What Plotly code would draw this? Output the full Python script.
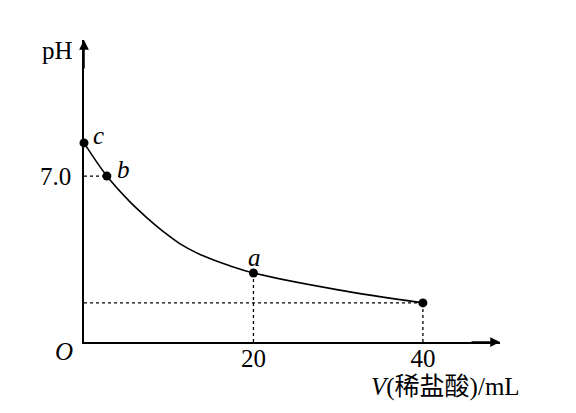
import plotly.graph_objects as go

# Data
V_curve = [0, 2.7, 5.4, 7.4, 9.4, 11.3, 13.3, 15.3, 17.2, 20, 30, 40]
pH_curve = [8.4, 7.0, 5.92, 5.25, 4.65, 4.15, 3.76, 3.46, 3.22, 2.91, 2.2, 1.65]

point_V = [0, 2.7, 20, 40]
point_pH = [8.4, 7.0, 2.91, 1.65]
point_labels = ["c", "b", "a", ""]

x_ticks = [20, 40]
x_ticktext = ["20", "40"]
y_ticks = [7.0]
y_ticktext = ["7.0"]

SERIF = "Liberation Serif, Times New Roman, serif"
FS = 25
X_MAX = 49.1
Y_MAX = 12.74

fig = go.Figure()

# dashed guide lines
dash = dict(color="black", width=1.3, dash="3px,3px")
fig.add_trace(go.Scatter(x=[0, point_V[1]], y=[point_pH[1], point_pH[1]], mode="lines", line=dash, hoverinfo="skip"))
fig.add_trace(go.Scatter(x=[point_V[2], point_V[2]], y=[0, point_pH[2]], mode="lines", line=dash, hoverinfo="skip"))
fig.add_trace(go.Scatter(x=[0, point_V[3]], y=[point_pH[3], point_pH[3]], mode="lines", line=dash, hoverinfo="skip"))
fig.add_trace(go.Scatter(x=[point_V[3], point_V[3]], y=[0, point_pH[3]], mode="lines", line=dash, hoverinfo="skip"))

# curve
fig.add_trace(go.Scatter(x=V_curve, y=pH_curve, mode="lines",
                         line=dict(color="black", width=1.6, shape="spline", smoothing=1.0),
                         hoverinfo="skip"))
# points
fig.add_trace(go.Scatter(x=point_V, y=point_pH, mode="markers",
                         marker=dict(color="black", size=9), cliponaxis=False, hoverinfo="skip"))

annotations = []
label_offsets = {"c": (14, 7), "b": (17, 7), "a": (1, 16)}
for v, p, lab in zip(point_V, point_pH, point_labels):
    if not lab:
        continue
    dx, dy = label_offsets[lab]
    annotations.append(dict(x=v, y=p, text=f"<i>{lab}</i>", showarrow=False,
                            xshift=dx, yshift=dy, font=dict(family=SERIF, size=FS, color="black")))

# axis arrows
annotations.append(dict(x=X_MAX, y=0, ax=-30, ay=0, axref="pixel", ayref="pixel",
                        showarrow=True, arrowhead=2, arrowsize=1.3, arrowwidth=1.5,
                        arrowcolor="black", text=""))
annotations.append(dict(x=0, y=Y_MAX, ax=0, ay=30, axref="pixel", ayref="pixel",
                        showarrow=True, arrowhead=2, arrowsize=1.3, arrowwidth=1.5,
                        arrowcolor="black", text=""))
# axis names
annotations.append(dict(x=0, y=Y_MAX, xshift=-27, yshift=-10, text="pH", showarrow=False,
                        font=dict(family=SERIF, size=FS, color="black")))
annotations.append(dict(x=0, y=0, xshift=-20, yshift=-9, text="<i>O</i>", showarrow=False,
                        font=dict(family=SERIF, size=FS, color="black")))
annotations.append(dict(x=40, y=0, xshift=23, yshift=-45,
                        text="<i>V</i>(稀盐酸)/mL", showarrow=False,
                        font=dict(family="Liberation Serif, Noto Sans CJK SC", size=FS, color="black")))

fig.update_layout(
    width=576, height=413,
    # the page body adds an 8px offset; margins compensate for it
    margin=dict(l=76, r=84, t=32, b=79),
    paper_bgcolor="white", plot_bgcolor="white",
    showlegend=False,
    annotations=annotations,
    xaxis=dict(range=[0, X_MAX], showgrid=False, zeroline=False, showline=True, automargin=False,
               linecolor="black", linewidth=1.5, tickvals=x_ticks, ticktext=x_ticktext,
               ticks="", ticklabelstandoff=-7, tickfont=dict(family=SERIF, size=FS, color="black")),
    yaxis=dict(range=[0, Y_MAX], showgrid=False, zeroline=False, showline=True, automargin=False,
               linecolor="black", linewidth=1.5, tickvals=y_ticks, ticktext=y_ticktext,
               ticks="", ticklabelstandoff=6, tickfont=dict(family=SERIF, size=FS, color="black")),
)

fig.write_html("out.html")
